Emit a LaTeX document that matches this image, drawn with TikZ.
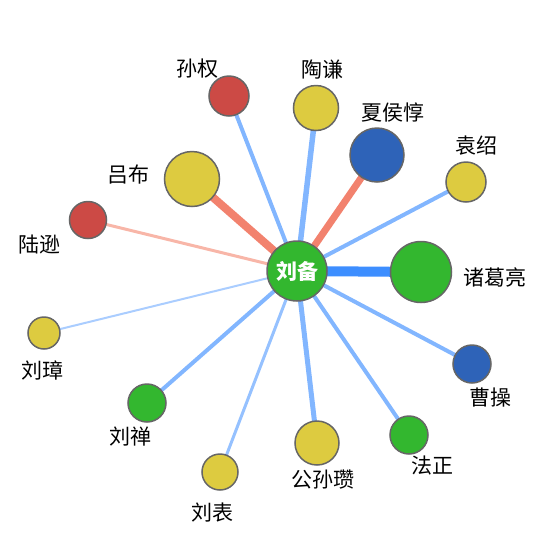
\documentclass[tikz,border=0pt]{standalone}
\usepackage{fontspec}
\setmainfont{Noto Sans CJK SC}
\usetikzlibrary{backgrounds}
\definecolor{ggreen}{HTML}{33B72F}
\definecolor{gyellow}{HTML}{DDCB40}
\definecolor{gred}{HTML}{CC4A45}
\definecolor{gblue}{HTML}{2E63B8}
\definecolor{rim}{HTML}{666666}
\definecolor{lblue}{HTML}{82B6FF}
\definecolor{pblue}{HTML}{AACDFF}
\definecolor{dblue}{HTML}{3D8EFF}
\definecolor{lred}{HTML}{F2826E}
\definecolor{pred}{HTML}{F8B6A8}
\tikzset{
  person/.style={circle,draw=rim,line width=1.5pt,inner sep=0pt},
  hub/.style={person,fill=ggreen,minimum size=60pt,text=white,
    font=\fontsize{21}{21}\selectfont\bfseries},
  tag/.style={inner sep=0pt,font=\fontsize{21}{21}\selectfont}
}
\begin{document}
\begin{tikzpicture}[x=1pt,y=-1pt]
\useasboundingbox (0,0) rectangle (550,550);
\node[hub] (liubei) at (297,271) {刘备};
% name/x/y/diameter/colour/label x/label y/text
\foreach \nm/\x/\y/\d/\col/\lx/\ly/\txt in {
  sunquan/229/96/40/gred/197/69/孙权,
  taoqian/316/108/45/gyellow/322/70/陶谦,
  xiahoudun/377/155/54/gblue/393/113/夏侯惇,
  yuanshao/466/182/40/gyellow/476/146/袁绍,
  lvbu/192/179/55/gyellow/128/175/吕布,
  luxun/88/220/37/gred/40/245/陆逊,
  zhugeliang/421/272/61/ggreen/495/277/诸葛亮,
  liuzhang/44/333/32/gyellow/42/370/刘璋,
  caocao/472/364/38/gblue/490/398/曹操,
  liushan/147/403/38/ggreen/130/437/刘禅,
  liubiao/220/472/36/gyellow/212/513/刘表,
  gongsunzan/317/443/44/gyellow/323/479/公孙瓒,
  fazheng/409/435/38/ggreen/432/466/法正}
{
  \node[person,fill=\col,minimum size=\d pt] (\nm) at (\x,\y) {};
  \node[tag] (\nm-tag) at (\lx,\ly) {\txt};
}
\begin{scope}[on background layer]
\foreach \nm/\w/\col in {sunquan/4/lblue,taoqian/5.5/lblue,xiahoudun/7/lred,
  yuanshao/4/lblue,lvbu/8/lred,luxun/3/pred,zhugeliang/10/dblue,
  liuzhang/2/pblue,caocao/4/lblue,liushan/4/lblue,liubiao/3/lblue!85!white,
  gongsunzan/5/lblue,fazheng/4/lblue}
  \draw[line width=\w pt,\col] (liubei.center) -- (\nm.center);
\end{scope}
\end{tikzpicture}
\end{document}
